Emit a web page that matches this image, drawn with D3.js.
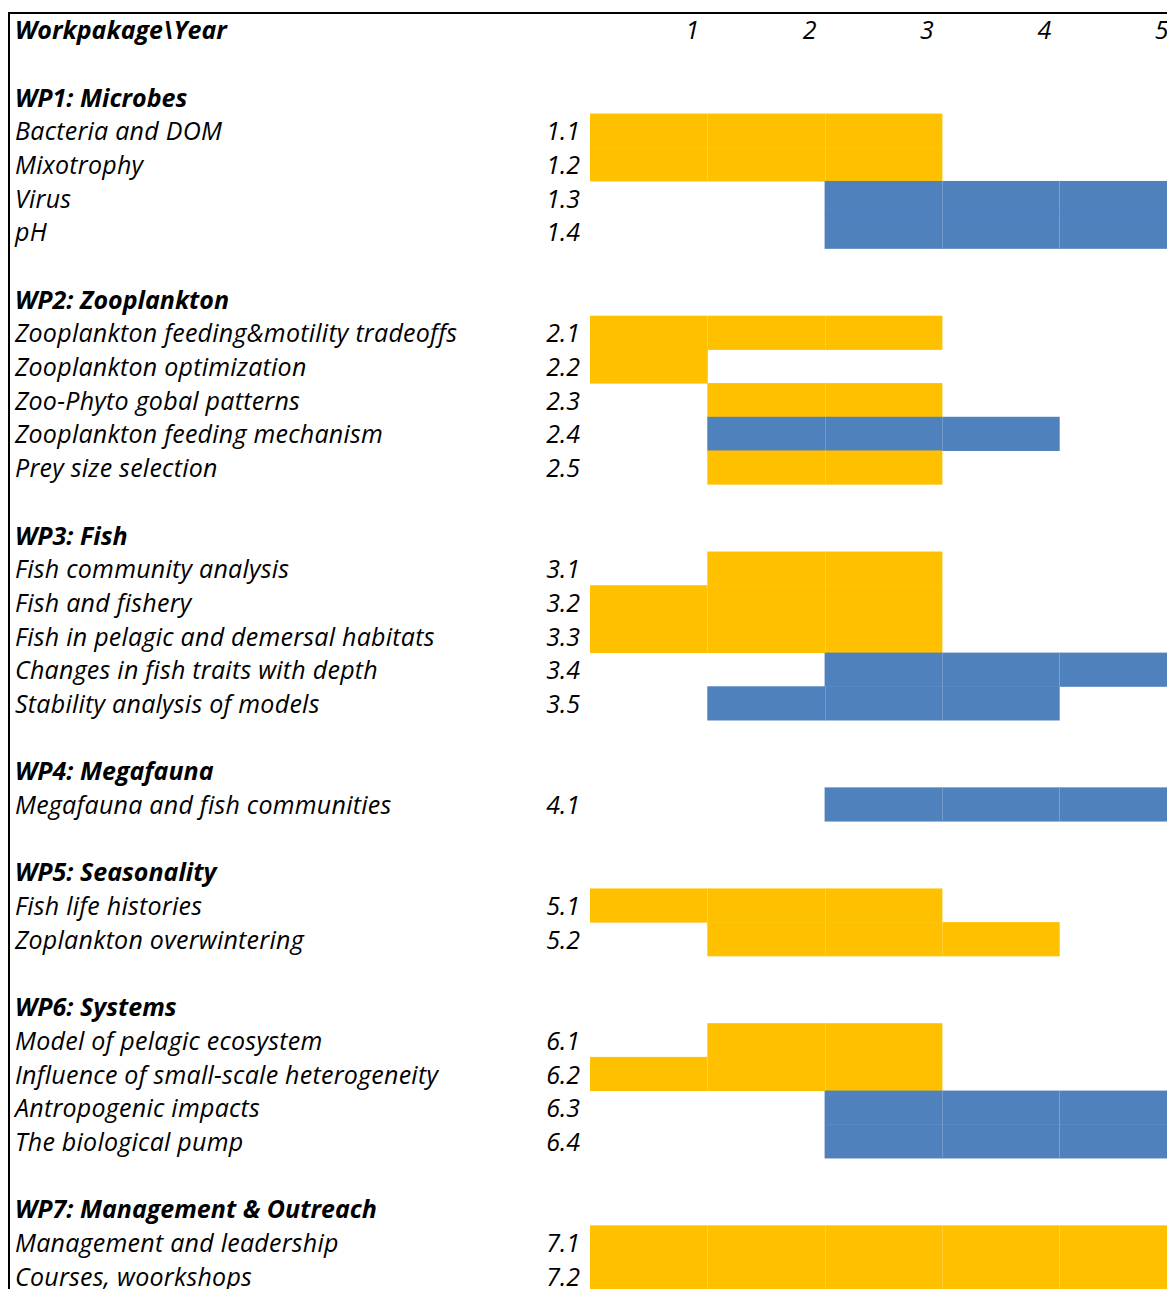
<!DOCTYPE html>
<html>
<head>
<meta charset="utf-8">
<style>
  body { margin: 0; background: #fff; }
  text { font-family: "Open Sans", sans-serif; font-style: italic; fill: #000; }
</style>
</head>
<body>
<script src="https://cdnjs.cloudflare.com/ajax/libs/d3/7.8.5/d3.min.js"></script>
<script>
var years = [1, 2, 3, 4, 5];

// one entry per work package
var wpNames = ["WP1: Microbes", "WP2: Zooplankton", "WP3: Fish", "WP4: Megafauna",
               "WP5: Seasonality", "WP6: Systems", "WP7: Management & Outreach"];

var taskIds = ["1.1", "1.2", "1.3", "1.4",
               "2.1", "2.2", "2.3", "2.4", "2.5",
               "3.1", "3.2", "3.3", "3.4", "3.5",
               "4.1",
               "5.1", "5.2",
               "6.1", "6.2", "6.3", "6.4",
               "7.1", "7.2"];
var taskNames = ["Bacteria and DOM", "Mixotrophy", "Virus", "pH",
                 "Zooplankton feeding&motility tradeoffs", "Zooplankton optimization",
                 "Zoo-Phyto gobal patterns", "Zooplankton feeding mechanism", "Prey size selection",
                 "Fish community analysis", "Fish and fishery", "Fish in pelagic and demersal habitats",
                 "Changes in fish traits with depth", "Stability analysis of models",
                 "Megafauna and fish communities",
                 "Fish life histories", "Zoplankton overwintering",
                 "Model of pelagic ecosystem", "Influence of small-scale heterogeneity",
                 "Antropogenic impacts", "The biological pump",
                 "Management and leadership", "Courses, woorkshops"];
var taskStart = [1, 1, 3, 3,  1, 1, 2, 2, 2,  2, 1, 1, 3, 2,  3,  1, 2,  2, 1, 3, 3,  1, 1];
var taskEnd   = [3, 3, 5, 5,  3, 1, 3, 4, 3,  3, 3, 3, 5, 4,  5,  3, 4,  3, 3, 5, 5,  5, 5];
var taskKind  = ["a", "a", "b", "b",  "a", "a", "a", "b", "a",  "a", "a", "a", "b", "b",  "b",
                 "a", "a",  "a", "a", "b", "b",  "a", "a"];

var W = 1167, H = 1289;
var colors = { a: "#FFC000", b: "#4F81BD" };
var fs = "25px";

// build the row list: header, then blank + WP title + tasks per package
var rows = [{ type: "header" }];
wpNames.forEach(function(name, w) {
    rows.push({ type: "blank" });
    rows.push({ type: "wp", label: name });
    taskIds.forEach(function(id, i) {
        if (id.charAt(0) === String(w + 1)) {
            rows.push({ type: "task", id: id, label: taskNames[i],
                        start: taskStart[i], end: taskEnd[i], kind: taskKind[i] });
        }
    });
});

var rowH = 33.69;
var tableTop = 12.5;

var y = d3.scaleBand()
    .domain(d3.range(rows.length))
    .range([tableTop, tableTop + rows.length * rowH]);

var x = d3.scaleLinear()
    .domain([0, years.length])
    .range([590, 1176.5]);

var svg = d3.select("body").append("svg")
    .attr("width", W)
    .attr("height", H);

var tasks = rows.map(function(r, i) { r.idx = i; return r; })
                .filter(function(r) { return r.type === "task"; });

// cells, one rect per year
var cells = [];
tasks.forEach(function(t) {
    for (var yr = t.start; yr <= t.end; yr++) {
        cells.push({ row: t.idx, year: yr, kind: t.kind, first: yr === t.start });
    }
});

svg.append("g").selectAll("rect")
    .data(cells)
    .enter()
    .append("rect")
    .attr("x", function(d) { return x(d.year - 1); })
    .attr("y", function(d) { return y(d.row); })
    .attr("width", x(1) - x(0) + 0.5)
    .attr("height", y.bandwidth() + 0.5)
    .attr("fill", function(d) { return colors[d.kind]; });

// faint cell seams
svg.append("g").selectAll("line")
    .data(cells.filter(function(d) { return !d.first; }))
    .enter()
    .append("line")
    .attr("x1", function(d) { return Math.round(x(d.year - 1)) + 0.5; })
    .attr("x2", function(d) { return Math.round(x(d.year - 1)) + 0.5; })
    .attr("y1", function(d) { return y(d.row); })
    .attr("y2", function(d) { return y(d.row) + y.bandwidth(); })
    .attr("stroke", "#fff")
    .attr("stroke-opacity", 0.2);

// header
svg.append("text")
    .attr("x", 15)
    .attr("y", y(0) + y.bandwidth() - 7)
    .attr("font-size", fs)
    .attr("font-weight", "bold")
    .text("Workpakage\\Year");

svg.append("g").selectAll("text")
    .data(years)
    .enter()
    .append("text")
    .attr("x", function(d) { return x(d) - 8; })
    .attr("y", y(0) + y.bandwidth() - 7)
    .attr("text-anchor", "end")
    .attr("font-size", fs)
    .text(function(d) { return d; });

// row labels
var labelRows = rows.filter(function(r) { return r.type === "wp" || r.type === "task"; });

svg.append("g").selectAll("text")
    .data(labelRows)
    .enter()
    .append("text")
    .attr("x", 15)
    .attr("y", function(d) { return y(d.idx) + y.bandwidth() - 7; })
    .attr("font-size", fs)
    .attr("font-weight", function(d) { return d.type === "wp" ? "bold" : "normal"; })
    .attr("letter-spacing", function(d) { return d.type === "wp" ? "0px" : "0.25px"; })
    .text(function(d) { return d.label; });

svg.append("g").selectAll("text")
    .data(tasks)
    .enter()
    .append("text")
    .attr("x", 580)
    .attr("y", function(d) { return y(d.idx) + y.bandwidth() - 7; })
    .attr("text-anchor", "end")
    .attr("font-size", fs)
    .text(function(d) { return d.id; });

// frame
svg.append("line")
    .attr("x1", 8).attr("x2", W)
    .attr("y1", 13).attr("y2", 13)
    .attr("stroke", "#000").attr("stroke-width", 2);
svg.append("line")
    .attr("x1", 9).attr("x2", 9)
    .attr("y1", 12).attr("y2", H)
    .attr("stroke", "#000").attr("stroke-width", 2);
</script>
</body>
</html>
